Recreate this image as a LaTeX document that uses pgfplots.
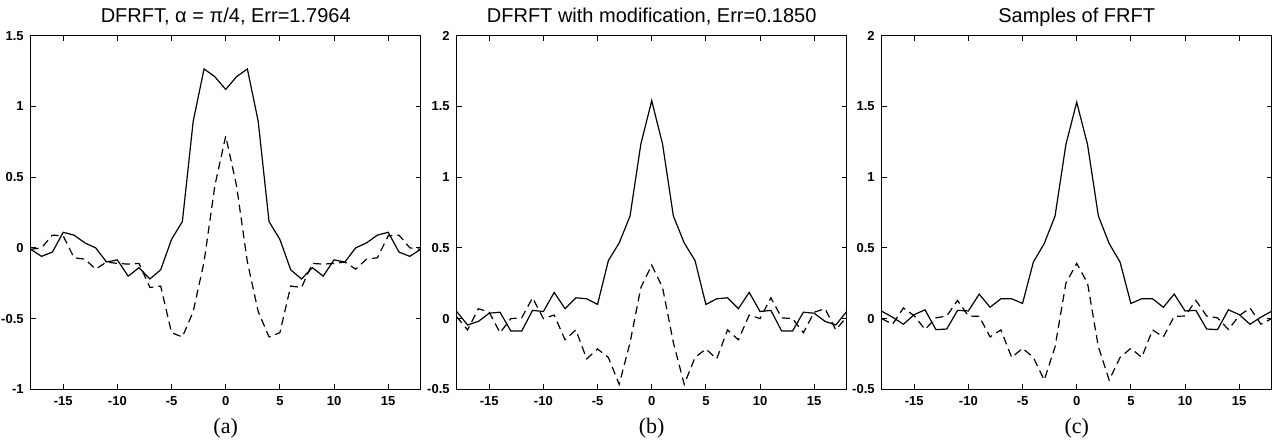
\documentclass[border=0pt]{standalone}
\usepackage{pgfplots}
\pgfplotsset{compat=1.18}
\usepackage{pgfplotstable}
\usepackage{fontspec}
\setmainfont{Liberation Serif}
\newfontfamily\hv{Liberation Sans}

% n, real part (solid), imaginary part (dashed)
\pgfplotstableread{
n re im
-18 -0.01 -0.01
-17 -0.06 0.00
-16 -0.03 0.09
-15 0.11 0.085
-14 0.09 -0.07
-13 0.035 -0.08
-12 0.00 -0.15
-11 -0.10 -0.10
-10 -0.085 -0.11
-9 -0.20 -0.115
-8 -0.14 -0.11
-7 -0.22 -0.28
-6 -0.155 -0.27
-5 0.06 -0.60
-4 0.186 -0.63
-3 0.895 -0.45
-2 1.265 -0.10
-1 1.21 0.44
0 1.12 0.79
1 1.21 0.44
2 1.265 -0.10
3 0.895 -0.45
4 0.186 -0.63
5 0.06 -0.60
6 -0.155 -0.27
7 -0.22 -0.28
8 -0.14 -0.11
9 -0.20 -0.115
10 -0.085 -0.11
11 -0.10 -0.10
12 0.00 -0.15
13 0.035 -0.08
14 0.09 -0.07
15 0.11 0.085
16 -0.03 0.09
17 -0.06 0.00
18 -0.01 -0.01
}\dataA

\pgfplotstableread{
n re im
-18 0.05 0.013
-17 -0.045 -0.08
-16 -0.02 0.07
-15 0.038 0.045
-14 0.045 -0.10
-13 -0.088 0.00
-12 -0.088 0.005
-11 0.058 0.147
-10 0.05 0.00
-9 0.185 0.025
-8 0.07 -0.15
-7 0.147 -0.08
-6 0.14 -0.285
-5 0.10 -0.215
-4 0.41 -0.275
-3 0.535 -0.465
-2 0.725 -0.17
-1 1.235 0.22
0 1.54 0.378
1 1.235 0.22
2 0.725 -0.17
3 0.535 -0.465
4 0.41 -0.275
5 0.10 -0.215
6 0.14 -0.285
7 0.147 -0.08
8 0.07 -0.15
9 0.185 0.025
10 0.05 0.00
11 0.058 0.147
12 -0.088 0.005
13 -0.088 0.00
14 0.045 -0.10
15 0.038 0.045
16 -0.02 0.07
17 -0.045 -0.08
18 0.05 0.013
}\dataB

\pgfplotstableread{
n re im
-18 0.052 0.00
-17 0.01 -0.04
-16 -0.04 0.075
-15 0.028 0.02
-14 0.062 -0.077
-13 -0.078 0.005
-12 -0.074 0.018
-11 0.058 0.128
-10 0.054 0.018
-9 0.173 0.016
-8 0.08 -0.13
-7 0.14 -0.08
-6 0.14 -0.275
-5 0.107 -0.21
-4 0.40 -0.275
-3 0.53 -0.435
-2 0.725 -0.20
-1 1.23 0.25
0 1.53 0.39
1 1.23 0.25
2 0.725 -0.20
3 0.53 -0.435
4 0.40 -0.275
5 0.107 -0.21
6 0.14 -0.275
7 0.14 -0.08
8 0.08 -0.13
9 0.173 0.016
10 0.054 0.018
11 0.058 0.128
12 -0.074 0.018
13 -0.078 0.005
14 0.062 -0.077
15 0.028 0.02
16 -0.04 0.075
17 0.01 -0.04
18 0.052 0.00
}\dataC

\pgfplotsset{
  frft/.style={
    scale only axis, width=195pt, height=176.8pt,
    anchor=south west,
    xmin=-18, xmax=18,
    xtick={-15,-10,...,15},
    major tick length=2.5pt,
    axis line style={line width=0.5pt},
    tick style={line width=0.4pt, black},
    tick label style={font=\hv\bfseries\fontsize{6.5}{7}\selectfont},
    /pgf/number format/assume math mode=true,
    every axis title shift=0pt,
    title style={font=\hv\fontsize{10}{12}\selectfont, at={(0.5,1)}, anchor=base, yshift=6.5pt},
    xlabel style={font=\fontsize{11}{13}\selectfont, at={(0.5,0)}, anchor=base, yshift=-21.9pt},
  },
  sol/.style={black, solid, no marks, line width=0.6pt},
  dsh/.style={black, no marks, line width=0.6pt, dash pattern=on 4pt off 2.5pt},
}

\begin{document}
\begin{tikzpicture}
\begin{axis}[frft, at={(15.35pt,27.85pt)},
  ymin=-1, ymax=1.5, ytick={-1,-0.5,...,1.5},
  title={DFRFT, α = π/4, Err=1.7964}, xlabel={(a)}]
\addplot[sol] table[x=n,y=re] {\dataA};
\addplot[dsh] table[x=n,y=im] {\dataA};
\end{axis}

\begin{axis}[frft, at={(228.35pt,27.85pt)},
  ymin=-0.5, ymax=2, ytick={-0.5,0,...,2},
  title={DFRFT with modification, Err=0.1850}, xlabel={(b)}]
\addplot[sol] table[x=n,y=re] {\dataB};
\addplot[dsh] table[x=n,y=im] {\dataB};
\end{axis}

\begin{axis}[frft, at={(440.85pt,27.85pt)},
  ymin=-0.5, ymax=2, ytick={-0.5,0,...,2},
  title={Samples of FRFT}, xlabel={(c)}]
\addplot[sol] table[x=n,y=re] {\dataC};
\addplot[dsh] table[x=n,y=im] {\dataC};
\end{axis}

\pgfresetboundingbox
\path (0,0) rectangle (636pt,222.5pt);
\end{tikzpicture}
\end{document}
